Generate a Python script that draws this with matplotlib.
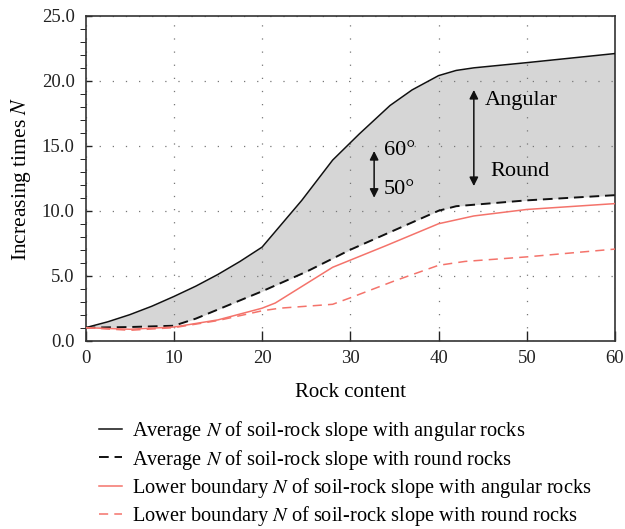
import numpy as np
import matplotlib
matplotlib.use("Agg")
from matplotlib import pyplot as plt
from matplotlib.ticker import MultipleLocator, FormatStrFormatter

plt.rcParams['font.family'] = ['Liberation Serif', 'DejaVu Serif']
plt.rcParams['mathtext.fontset'] = 'stix'

# average N, angular rocks
x_ang = [0, 2.5, 5, 7.5, 10, 12.5, 15, 17.5, 20, 22, 24.5, 28, 31, 34.5, 37, 40, 42, 44, 50, 60]
y_ang = [1.0, 1.45, 2.0, 2.65, 3.4, 4.2, 5.1, 6.1, 7.2, 8.8, 10.8, 13.9, 15.9, 18.1, 19.3, 20.4, 20.8, 21.0, 21.4, 22.1]
# average N, round rocks
x_rnd = [0, 5, 10, 12.5, 15, 17.5, 20, 25, 30, 35, 40, 42, 50, 60]
y_rnd = [1.0, 1.05, 1.15, 1.7, 2.4, 3.1, 3.8, 5.3, 7.0, 8.5, 10.0, 10.35, 10.8, 11.2]
# lower boundary, angular rocks
x_low_ang = [0, 5, 10, 15, 20, 21.5, 28, 34, 40, 44, 50, 60]
y_low_ang = [1.0, 0.88, 1.05, 1.6, 2.5, 2.9, 5.65, 7.3, 9.0, 9.6, 10.1, 10.55]
# lower boundary, round rocks
x_low_rnd = [0, 5, 10, 15, 20, 22, 28, 30, 35, 40, 43, 50, 60]
y_low_rnd = [1.0, 0.8, 1.0, 1.55, 2.3, 2.5, 2.8, 3.3, 4.6, 5.8, 6.1, 6.45, 7.05]

red = '#f4736b'

fig = plt.figure(figsize=(6.25, 5.29), dpi=100)
ax = fig.add_axes([0.137, 0.356, 0.847, 0.614])

x_all = np.union1d(x_ang, x_rnd)
ax.fill_between(x_all, np.interp(x_all, x_rnd, y_rnd), np.interp(x_all, x_ang, y_ang),
                color='#d6d6d6', lw=0, zorder=1)

l1, = ax.plot(x_ang, y_ang, color='#111111', lw=1.1, zorder=3,
              label='Average $N$ of soil-rock slope with angular rocks')
l2, = ax.plot(x_rnd, y_rnd, color='#111111', lw=1.4, ls=(0, (5, 3)), zorder=3,
              label='Average $N$ of soil-rock slope with round rocks')
l3, = ax.plot(x_low_ang, y_low_ang, color=red, lw=1.1, zorder=3,
              label='Lower boundary $N$ of soil-rock slope with angular rocks')
l4, = ax.plot(x_low_rnd, y_low_rnd, color=red, lw=1.1, ls=(0, (6, 4)), zorder=3,
              label='Lower boundary $N$ of soil-rock slope with round rocks')

ax.set_xlim(0, 60)
ax.set_ylim(0, 25)
ax.xaxis.set_major_locator(MultipleLocator(10))
ax.yaxis.set_major_locator(MultipleLocator(5))
ax.yaxis.set_minor_locator(MultipleLocator(1))
ax.yaxis.set_major_formatter(FormatStrFormatter('%.1f'))
ax.tick_params(axis='both', direction='in', labelsize=13.5, colors='#222222', width=1.0)
ax.tick_params(axis='y', which='both', length=4.5, pad=8)
ax.tick_params(axis='x', length=7, pad=7)
ax.grid(True, which='major', color='#777777', ls=(0, (1, 9.5)), lw=0.9, zorder=2)
for s in ax.spines.values():
    s.set_color('#333333')
    s.set_linewidth(1.2)

ax.set_xlabel('Rock content', fontsize=15, labelpad=11)
ax.set_ylabel('Increasing times $N$', fontsize=15.5, labelpad=6)

# annotations
arr = dict(arrowstyle='<|-|>', color='#111111', lw=1.1, mutation_scale=13, shrinkA=0, shrinkB=0)
ax.annotate('', xy=(32.7, 14.6), xytext=(32.7, 11.0), arrowprops=arr, zorder=4)
ax.annotate('', xy=(44.0, 19.3), xytext=(44.0, 11.9), arrowprops=arr, zorder=4)
ax.text(33.8, 14.6, '60°', fontsize=16, va='center', ha='left')
ax.text(33.8, 11.6, '50°', fontsize=16, va='center', ha='left')
ax.text(45.2, 18.5, 'Angular', fontsize=16, va='center', ha='left')
ax.text(45.9, 13.0, 'Round', fontsize=16, va='center', ha='left')

fig.legend(handles=[l1, l2, l3, l4], loc='upper left', bbox_to_anchor=(0.158, 0.207),
           frameon=False, fontsize=14.7, handlelength=1.15, handletextpad=0.5,
           labelspacing=0.2, borderaxespad=0, borderpad=0)

fig.savefig('out.png', dpi=100)
